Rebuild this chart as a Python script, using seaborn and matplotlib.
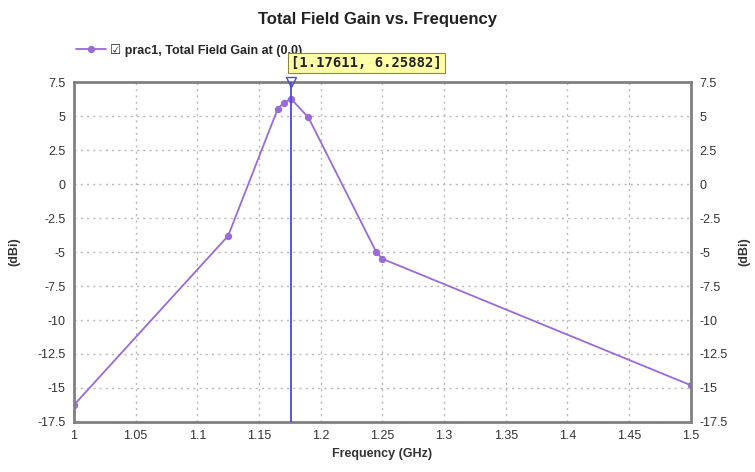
import matplotlib
matplotlib.use("Agg")
import matplotlib.pyplot as plt
import seaborn as sns
import pandas as pd

# Data
freq_ghz = [1.0, 1.125, 1.165, 1.17, 1.17611, 1.19, 1.245, 1.25, 1.5]
gain_dbi = [-16.25, -3.8, 5.5, 6.0, 6.25882, 4.9, -5.0, -5.5, -14.8]
x_ticks = [1, 1.05, 1.1, 1.15, 1.2, 1.25, 1.3, 1.35, 1.4, 1.45, 1.5]
x_tick_labels = ["1", "1.05", "1.1", "1.15", "1.2", "1.25", "1.3", "1.35", "1.4", "1.45", "1.5"]
y_ticks = [-17.5, -15, -12.5, -10, -7.5, -5, -2.5, 0, 2.5, 5, 7.5]
y_tick_labels = ["-17.5", "-15", "-12.5", "-10", "-7.5", "-5", "-2.5", "0", "2.5", "5", "7.5"]
cursor_x = 1.17611
cursor_y = 6.25882
series_name = "prac1, Total Field Gain at (0,0)"

sns.set_style("white")
plt.rcParams["font.family"] = ["Liberation Sans", "DejaVu Sans"]

df = pd.DataFrame({"Frequency": freq_ghz, "Gain": gain_dbi})

fig = plt.figure(figsize=(7.55, 4.72), dpi=100)
ax = fig.add_axes([0.098, 0.106, 0.817, 0.720])

line_color = "#9a6ad8"
sns.lineplot(data=df, x="Frequency", y="Gain", ax=ax, color=line_color,
             marker="o", markersize=4.5, markeredgecolor=line_color,
             linewidth=1.3, label=series_name, legend=False)

ax.set_xlim(1.0, 1.5)
ax.set_ylim(-17.5, 7.5)
ax.set_xticks(x_ticks)
ax.set_xticklabels(x_tick_labels)
ax.set_yticks(y_ticks)
ax.set_yticklabels(y_tick_labels)
ax.grid(True, color="#b8b8b8", linestyle=(0, (1.5, 3)), linewidth=1.0)
ax.tick_params(axis="both", labelsize=9, colors="#333333", length=0, pad=6)
for sp in ax.spines.values():
    sp.set_color("#808080")
    sp.set_linewidth(2)

ax.set_xlabel("Frequency (GHz)", fontsize=9, fontweight="bold", color="#333333", labelpad=4)
ax.set_ylabel("(dBi)", fontsize=9, fontweight="bold", color="#333333", labelpad=12)

ax2 = ax.twinx()
ax2.set_ylim(-17.5, 7.5)
ax2.set_yticks(y_ticks)
ax2.set_yticklabels(y_tick_labels)
ax2.tick_params(axis="y", labelsize=9, colors="#333333", length=0, pad=6)
ax2.set_ylabel("(dBi)", fontsize=9, fontweight="bold", color="#333333", labelpad=8, rotation=90)
for sp in ax2.spines.values():
    sp.set_visible(False)

# cursor line
ax.axvline(cursor_x, color="#4a4adf", linewidth=1.3, zorder=4)
ax.plot([cursor_x], [7.5], marker="v", markersize=7, markerfacecolor="none",
        markeredgecolor="#4a4adf", clip_on=False, zorder=5)
ax.annotate(f"[{cursor_x:.5f}, {cursor_y:.5f}]", xy=(cursor_x, 7.5), xytext=(0, 11),
            textcoords="offset points", fontsize=10, fontweight="bold", color="#222222",
            family=["DejaVu Sans Mono"],
            bbox=dict(boxstyle="square,pad=0.2", fc="#ffffa8", ec="#888844", lw=0.8),
            annotation_clip=False, zorder=6)

# legend
h, _ = ax.get_legend_handles_labels()
leg = ax.legend(h, ["\u2611 " + series_name], loc="center left", bbox_to_anchor=(-0.005, 1.094),
                frameon=False, handlelength=2.4, handletextpad=0.3, borderaxespad=0.0,
                prop={"weight": "bold", "size": 9, "family": ["Liberation Sans", "DejaVu Sans"]})
leg.set_zorder(3)

fig.suptitle("Total Field Gain vs. Frequency", x=0.5, y=0.975, fontsize=12, fontweight="bold",
             color="#222222", family=["Liberation Sans", "DejaVu Sans"])

fig.savefig("out.png", dpi=100)
